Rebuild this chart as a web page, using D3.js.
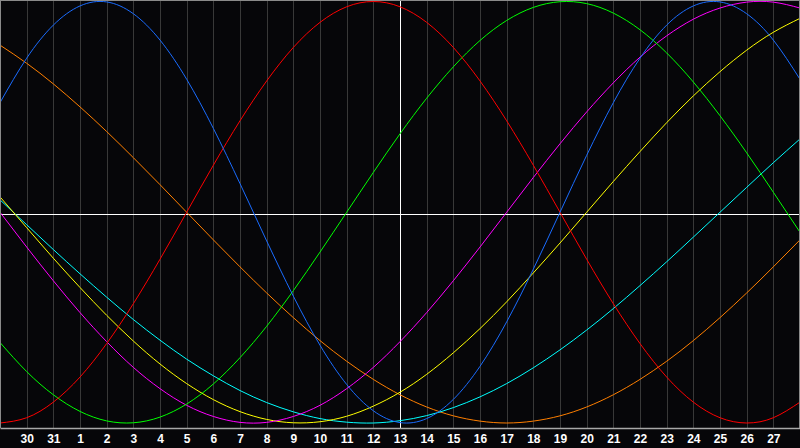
<!DOCTYPE html>
<html>
<head>
<meta charset="utf-8">
<script src="https://cdn.jsdelivr.net/npm/d3@7"></script>
<style>
  html, body { margin: 0; padding: 0; background: #060609; overflow: hidden; }
  #chart { width: 800px; height: 448px; }
  .day-axis text { fill: #fff; font-family: "Liberation Sans", Arial, sans-serif; font-size: 12px; font-weight: bold; }
</style>
</head>
<body>
<div id="chart"></div>
<script>
// Days shown along the bottom (first and last sit on the chart edges, unlabeled)
const dayLabels = ["29", "30", "31", "1", "2", "3", "4", "5", "6", "7", "8", "9", "10", "11", "12",
  "13", "14", "15", "16", "17", "18", "19", "20", "21", "22", "23", "24", "25", "26", "27", "28"];
const todayIndex = 15; // day 13

// daily values (%), one per day above
const physical =     [52.0, 73.1, 88.8, 97.9, 99.8, 94.2, 81.7, 63.1, 39.8, 13.6, -13.6, -39.8, -63.1, -81.7, -94.2, -99.8,
  -97.9, -88.8, -73.1, -52.0, -27.0, 0, 27.0, 52.0, 73.1, 88.8, 97.9, 99.8, 94.2, 81.7, 63.1];
const emotional =    [-100, -97.5, -90.1, -78.2, -62.3, -43.4, -22.3, 0, 22.3, 43.4, 62.3, 78.2, 90.1, 97.5, 100, 97.5,
  90.1, 78.2, 62.3, 43.4, 22.3, 0, -22.3, -43.4, -62.3, -78.2, -90.1, -97.5, -100, -97.5, -90.1];
const intellectual = [-61.8, -75.6, -86.6, -94.5, -99.0, -99.9, -97.2, -91.0, -81.5, -69.0, -54.1, -37.2, -18.9, 0, 18.9, 37.2,
  54.1, 69.0, 81.5, 91.0, 97.2, 99.9, 99.0, 94.5, 86.6, 75.6, 61.8, 45.8, 28.2, 9.5, -9.5];
const intuitive =    [0, -16.5, -32.5, -47.6, -61.4, -73.6, -83.7, -91.6, -96.9, -99.7, -99.7, -96.9, -91.6, -83.7, -73.6, -61.4,
  -47.6, -32.5, -16.5, 0, 16.5, 32.5, 47.6, 61.4, 73.6, 83.7, 91.6, 96.9, 99.7, 99.7, 96.9];
const aesthetic =    [7.3, -7.3, -21.8, -35.7, -48.9, -61.1, -72.0, -81.3, -88.9, -94.6, -98.3, -99.9, -99.4, -96.8, -92.0, -85.4,
  -76.9, -66.7, -55.2, -42.5, -28.8, -14.6, 0, 14.6, 28.8, 42.5, 55.2, 66.7, 76.9, 85.4, 92.0];
const awareness =    [79.3, 70.7, 60.9, 50.0, 38.3, 25.9, 13.1, 0, -13.1, -25.9, -38.3, -50.0, -60.9, -70.7, -79.3, -86.6,
  -92.4, -96.6, -99.1, -100, -99.1, -96.6, -92.4, -86.6, -79.3, -70.7, -60.9, -50.0, -38.3, -25.9, -13.1];
const spiritual =    [5.9, -5.9, -17.7, -29.2, -40.3, -50.9, -60.7, -69.7, -77.6, -84.6, -90.3, -94.7, -97.9, -99.6, -100.0, -98.9,
  -96.5, -92.7, -87.6, -81.3, -73.8, -65.3, -55.9, -45.7, -34.8, -23.5, -11.8, 0, 11.8, 23.5, 34.8];

const seriesNames = ["awareness", "spiritual", "aesthetic", "intuitive", "intellectual", "emotional", "physical"];
const seriesValues = [awareness, spiritual, aesthetic, intuitive, intellectual, emotional, physical];
const seriesColors = ["#ff7f00", "#00ffff", "#ffff00", "#ff00ff", "#00ff00", "#ff0000", "#1a6cff"];

const W = 800, H = 448;
const plotBottom = 428;

const svg = d3.select("#chart").append("svg")
  .attr("width", W).attr("height", H);

svg.append("rect").attr("width", W).attr("height", H).attr("fill", "#060609");

const x = d3.scaleLinear().domain([0, dayLabels.length - 1]).range([0, W]);
const y = d3.scaleLinear().domain([-100, 100]).range([423, 1.5]);

// vertical day grid
const gridIdx = d3.range(1, dayLabels.length - 1);
svg.append("g").selectAll("line")
  .data(gridIdx)
  .enter().append("line")
  .attr("x1", d => Math.round(x(d)) + 0.5)
  .attr("x2", d => Math.round(x(d)) + 0.5)
  .attr("y1", 0).attr("y2", plotBottom)
  .attr("stroke", "#383838")
  .attr("stroke-width", 1);

// today + zero lines
svg.append("line")
  .attr("x1", Math.round(x(todayIndex)) + 0.5).attr("x2", Math.round(x(todayIndex)) + 0.5)
  .attr("y1", 0).attr("y2", plotBottom)
  .attr("stroke", "#ffffff");
svg.append("line")
  .attr("x1", 0).attr("x2", W)
  .attr("y1", Math.round(y(0)) + 2.5).attr("y2", Math.round(y(0)) + 2.5)
  .attr("stroke", "#ffffff");

// curves
const line = d3.line()
  .x((d, i) => x(i))
  .y(d => y(d))
  .curve(d3.curveNatural);

svg.append("g").selectAll("path")
  .data(seriesValues)
  .enter().append("path")
  .attr("d", d => line(d))
  .attr("fill", "none")
  .attr("stroke", (d, i) => seriesColors[i])
  .attr("stroke-width", 1)
  .attr("class", (d, i) => seriesNames[i]);

// frame
svg.append("line").attr("x1", 0).attr("x2", W).attr("y1", 0.5).attr("y2", 0.5).attr("stroke", "#8a8a8a");
svg.append("line").attr("x1", 0.5).attr("x2", 0.5).attr("y1", 0).attr("y2", plotBottom).attr("stroke", "#8a8a8a");
svg.append("line").attr("x1", W - 0.5).attr("x2", W - 0.5).attr("y1", 0).attr("y2", plotBottom).attr("stroke", "#8a8a8a");

// day axis
const axis = svg.append("g")
  .attr("class", "day-axis")
  .attr("transform", `translate(0,${plotBottom})`)
  .call(d3.axisBottom(x)
    .tickValues(gridIdx)
    .tickFormat(i => dayLabels[i])
    .tickSize(0)
    .tickPadding(6));
axis.select(".domain")
  .attr("stroke", "#a8a8a8")
  .attr("stroke-width", 1.5);
</script>
</body>
</html>
